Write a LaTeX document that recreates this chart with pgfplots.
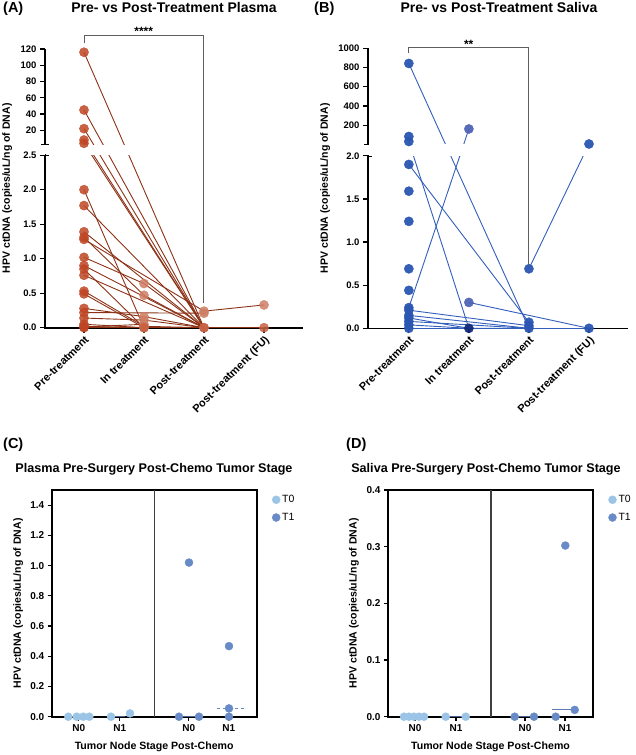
\documentclass[border=0pt]{standalone}
\usepackage{pgfplots}
\pgfplotsset{compat=1.18}
\usepackage{fontspec}
\setmainfont{Liberation Sans}

\definecolor{plasmaline}{RGB}{140,50,22}
\definecolor{plasmadot}{RGB}{190,70,36}
\definecolor{plasmalight}{RGB}{206,126,100}
\definecolor{salivaline}{RGB}{50,94,188}
\definecolor{salivadot}{RGB}{42,86,178}
\definecolor{salivadark}{RGB}{16,42,122}
\definecolor{salivamid}{RGB}{80,100,180}
\definecolor{tzero}{RGB}{155,196,230}
\definecolor{tone}{RGB}{104,139,200}
\definecolor{bracket}{RGB}{95,95,95}

\newcommand{\fs}[1]{\fontsize{#1}{#1}\selectfont}

\pgfplotsset{
  pair/.style={
    scale only axis, anchor=south west,
    axis lines*=left, axis line style={draw=none},
    tick align=outside, tick pos=left,
    major tick length=5pt,
    tick style={black, line width=1.3pt},
    tick label style={font=\bfseries\fs{9.5}},
    xtick={0,1,2,3},
    xticklabels={Pre-treatment,In treatment,Post-treatment,Post-treatment (FU)},
    xticklabel style={rotate=45, anchor=north east, font=\bfseries\fs{11}, inner sep=1.5pt},
    ylabel={HPV ctDNA (copies/uL/ng of DNA)},
    ylabel style={font=\bfseries\fs{10.5}, anchor=center},
  },
  pl/.style={plasmaline, line width=0.9pt, forget plot},
  sl/.style={salivaline, line width=0.9pt, forget plot},
  dotA/.style={only marks, mark=*, mark size=4.6pt, opacity=0.85},
  stage/.style={
    scale only axis, anchor=south west,
    width=205pt, height=226.7pt,
    xmin=0, xmax=20.5, ymin=0,
    axis line style={line width=1.6pt},
    tick pos=left, tick align=outside, major tick length=4pt,
    tick style={black, line width=1.2pt},
    tick label style={font=\bfseries\fs{10}},
    xtick={2.7,6.8,13.7,17.7}, xticklabels={N0,N1,N0,N1},
    xlabel={Tumor Node Stage Post-Chemo},
    xlabel style={font=\bfseries\fs{10.6}, yshift=-4pt},
    ylabel={HPV ctDNA (copies/uL/ng of DNA)},
    ylabel style={font=\bfseries\fs{10.5}, anchor=center},
    legend style={draw=none, fill=none, font=\fs{10.5}, row sep=5pt, anchor=north west},
    legend cell align=left,
  },
  dotC/.style={only marks, mark=*, mark size=4pt},
}

\begin{document}
\begin{tikzpicture}
\useasboundingbox (0pt,0pt) rectangle (636pt,-755pt);

% hand-drawn broken axis lines (drawn first, under the data)
\begin{scope}[x=1pt,y=-1pt,line width=1.6pt]
  \draw (45,155.2) -- (45,327.7) -- (303,327.7);
  \draw (45,49) -- (45,144.5);
  \draw (41,144.5) -- (49,144.5);
  \draw (45,155.2) -- (49,155.2);
  \draw (368,156) -- (368,328.3) -- (628,328.3);
  \draw (368,48.3) -- (368,144.4);
  \draw (364,144.4) -- (372,144.4);
  \draw (368,156) -- (372,156);
\end{scope}

% (A) plasma
\begin{axis}[pair,
  at={(45pt,-327.7pt)}, width=258pt, height=278.7pt,
  xmin=-0.65, xmax=3.65, ymin=0, ymax=120,
  y coord trafo/.code={\pgfmathparse{#1>2.5 ? 2.655+(#1-2.5)*0.01178 : #1}},
  ytick={0,0.5,1,1.5,2,2.5,20,40,60,80,100,120},
  yticklabels={0.0,0.5,1.0,1.5,2.0,2.5,20,40,60,80,100,120},
  ylabel style={at={(axis description cs:-0.147,0.5)}},
]
\addplot[pl] coordinates {(0,116) (2,0)};
\addplot[pl] coordinates {(0,45) (2,0)};
\addplot[pl] coordinates {(0,22) (2,0)};
\addplot[pl] coordinates {(0,8) (2,0)};
\addplot[pl] coordinates {(0,4) (2,0)};
\addplot[pl] coordinates {(0,2.0) (1,0)};
\addplot[pl] coordinates {(0,1.77) (2,0)};
\addplot[pl] coordinates {(0,1.39) (2,0)};
\addplot[pl] coordinates {(0,1.31) (1,0.47) (2,0)};
\addplot[pl] coordinates {(0,1.28) (2,0.24) (3,0.33)};
\addplot[pl] coordinates {(0,1.02) (1,0.64) (2,0)};
\addplot[pl] coordinates {(0,0.90) (2,0)};
\addplot[pl] coordinates {(0,0.85) (1,0)};
\addplot[pl] coordinates {(0,0.76) (2,0)};
\addplot[pl] coordinates {(0,0.53) (1,0.02) (2,0)};
\addplot[pl] coordinates {(0,0.49) (1,0)};
\addplot[pl] coordinates {(0,0.28) (1,0.16) (2,0)};
\addplot[pl] coordinates {(0,0.22) (2,0.21)};
\addplot[pl] coordinates {(0,0.14) (1,0.11) (2,0) (3,0)};
\addplot[pl] coordinates {(0,0.05) (1,0)};
\addplot[pl] coordinates {(0,0.02) (1,0) (2,0)};
\addplot[pl] coordinates {(0,0) (1,0) (2,0) (3,0)};
\addplot[pl] coordinates {(0,0.01) (1,0.05)};
\fill[white] (rel axis cs:0.005,0.6190) rectangle (rel axis cs:1,0.6573);
\addplot[dotA, plasmadot] coordinates {
  (0,116) (0,45) (0,22) (0,8) (0,4) (0,2.0) (0,1.77) (0,1.39) (0,1.31)
  (0,1.28) (0,1.02) (0,0.90) (0,0.85) (0,0.76) (0,0.53) (0,0.49) (0,0.28)
  (0,0.22) (0,0.14) (0,0.05) (0,0.02) (0,0) (0,0.01)};
\addplot[dotA, plasmalight] coordinates {
  (1,0.64) (1,0.47) (1,0.16) (1,0.11) (1,0.05) (1,0.02)
  (2,0.24) (2,0.21) (3,0.33)};
\addplot[dotA, plasmadot!85!white] coordinates {(1,0) (1,0) (2,0) (2,0) (3,0)};
\end{axis}

% (B) saliva
\begin{axis}[pair,
  at={(368pt,-328.3pt)}, width=260pt, height=280pt,
  xmin=-0.68, xmax=3.65, ymin=0, ymax=1000,
  y coord trafo/.code={\pgfmathparse{#1>2 ? 2.135+(#1-2)*0.001117 : #1}},
  ytick={0,0.5,1,1.5,2,200,400,600,800,1000},
  yticklabels={0.0,0.5,1.0,1.5,2.0,200,400,600,800,1000},
  ylabel style={at={(axis description cs:-0.165,0.5)}},
]
\addplot[sl] coordinates {(0,840) (2,0)};
\addplot[sl] coordinates {(0,30) (1,0)};
\addplot[sl] coordinates {(0,1.90) (2,0.07)};
\addplot[sl] coordinates {(0,0.24) (1,160)};
\addplot[sl] coordinates {(0,0.21) (2,0.03)};
\addplot[sl] coordinates {(0,0.15) (2,0)};
\addplot[sl] coordinates {(0,0.12) (1,0)};
\addplot[sl] coordinates {(0,0.08) (2,0)};
\addplot[sl] coordinates {(0,0.04) (1,0) (2,0)};
\addplot[sl] coordinates {(0,0) (1,0) (2,0) (3,0)};
\addplot[sl] coordinates {(1,0.30) (3,0)};
\addplot[sl] coordinates {(2,0.69) (3,4)};
\fill[white] (rel axis cs:0.005,0.6154) rectangle (rel axis cs:1,0.6569);
\addplot[dotA, salivadot, opacity=0.95] coordinates {
  (0,840) (0,82) (0,30) (0,1.90) (0,1.59) (0,1.24) (0,0.69) (0,0.44)
  (0,0.24) (0,0.21) (0,0.15) (0,0.12) (0,0.08) (0,0.04) (0,0)
  (2,0.69) (2,0.07) (2,0.03) (2,0) (3,4) (3,0)};
\addplot[dotA, salivamid, opacity=0.95] coordinates {(1,160) (1,0.30)};
\addplot[dotA, salivadark, opacity=0.95] coordinates {(1,0)};
\end{axis}

% (C) plasma by stage
\begin{axis}[stage,
  at={(51.7pt,-716.7pt)}, ymax=1.5,
  ytick={0,0.2,0.4,0.6,0.8,1.0,1.2,1.4},
  yticklabels={0.0,0.2,0.4,0.6,0.8,1.0,1.2,1.4},
  ylabel style={at={(axis description cs:-0.164,0.5)}},
  legend style={at={(axis description cs:1.06,0.995)}},
]
\draw[line width=1.1pt, black!75] (axis cs:10.3,0) -- (axis cs:10.3,1.5);
\addplot[forget plot, tone!70!black, line width=1pt] coordinates {(6.3,0) (7.3,0)};
\addplot[forget plot, tone!70!black, line width=1pt] coordinates {(12.7,0) (14.7,0)};
\addplot[forget plot, tone, line width=1pt, dashed] coordinates {(16.5,0.055) (19.2,0.055)};
\addplot[dotC, tzero] coordinates {(1.66,0) (2.5,0) (3.16,0) (3.76,0) (5.93,0) (7.83,0.022)};
\addlegendentry{T0}
\addplot[dotC, tone] coordinates {(12.73,0) (14.73,0) (13.73,1.02) (17.73,0.467) (17.73,0.055) (17.73,0)};
\addlegendentry{T1}
\end{axis}

% (D) saliva by stage
\begin{axis}[stage,
  at={(388pt,-716.7pt)}, ymax=0.4,
  ytick={0,0.1,0.2,0.3,0.4},
  yticklabels={0.0,0.1,0.2,0.3,0.4},
  ylabel style={at={(axis description cs:-0.166,0.5)}},
  legend style={at={(axis description cs:1.06,0.995)}},
]
\draw[line width=1.1pt, black!75] (axis cs:10.3,0) -- (axis cs:10.3,0.4);
\addplot[forget plot, tone!70!black, line width=1pt] coordinates {(5.8,0) (7.8,0)};
\addplot[forget plot, tone!70!black, line width=1pt] coordinates {(12.7,0) (14.6,0)};
\addplot[forget plot, tone!90!black, line width=1pt] coordinates {(16.4,0.012) (18.8,0.012)};
\addplot[dotC, tzero] coordinates {(1.6,0) (2.1,0) (2.6,0) (3.1,0) (3.6,0) (5.77,0) (7.77,0)};
\addlegendentry{T0}
\addplot[dotC, tone] coordinates {(12.67,0) (14.6,0) (16.77,0) (18.67,0.012) (17.73,0.302)};
\addlegendentry{T1}
\end{axis}

% titles, panel letters, significance brackets
\begin{scope}[x=1pt,y=-1pt]
  \node[font=\bfseries\fs{14}] at (174,7.5) {Pre- vs Post-Treatment Plasma};
  \node[font=\bfseries\fs{14}] at (499,7.5) {Pre- vs Post-Treatment Saliva};
  \node[font=\bfseries\fs{14.5}, anchor=west, inner sep=0pt] at (3,9) {(A)};
  \node[font=\bfseries\fs{14.5}, anchor=west, inner sep=0pt] at (314,9) {(B)};
  \node[font=\bfseries\fs{14.5}, anchor=west, inner sep=0pt] at (3,445) {(C)};
  \node[font=\bfseries\fs{14.5}, anchor=west, inner sep=0pt] at (346,445) {(D)};
  \node[font=\bfseries\fs{12.6}] at (154,469) {Plasma Pre-Surgery Post-Chemo Tumor Stage};
  \node[font=\bfseries\fs{12.6}] at (486,469) {Saliva Pre-Surgery Post-Chemo Tumor Stage};
  \draw[bracket, line width=0.8pt] (84,43.3) -- (84,35) -- (203.3,35) -- (203.3,303);
  \node[font=\bfseries\fs{12}] at (143.7,31.5) {****};
  \draw[bracket, line width=0.8pt] (408.7,53.3) -- (408.7,47.7) -- (528.7,47.7) -- (528.7,265);
  \node[font=\bfseries\fs{12}] at (468.7,44) {**};
\end{scope}
\end{tikzpicture}
\end{document}
